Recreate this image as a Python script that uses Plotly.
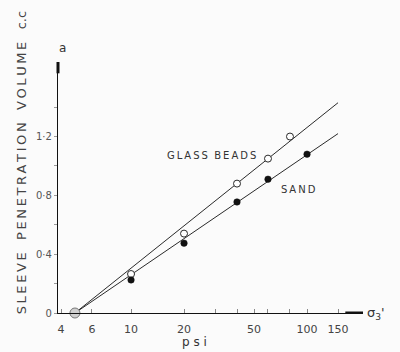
import plotly.graph_objects as go

# Confining pressure (psi) and sleeve penetration volume (c.c)
glass_psi = [10, 20, 40, 60, 80]
glass_vol = [0.265, 0.54, 0.88, 1.05, 1.20]
sand_psi = [10, 20, 40, 60, 100]
sand_vol = [0.225, 0.475, 0.755, 0.91, 1.08]

# Common intercept of both fitted lines
origin_psi = [4.8]
origin_vol = [0.0]

# Fitted straight lines (semi-log) end points
glass_fit_psi = [4.8, 150]
glass_fit_vol = [0.0, 1.43]
sand_fit_psi = [4.8, 150]
sand_fit_vol = [0.0, 1.22]

x_tick_vals = [4, 6, 10, 20, 30, 40, 50, 60, 80, 100, 150]
x_tick_text = ["4", "6", "10", "20", "", "", "50", "", "", "100", "150"]
y_tick_vals = [0, 0.2, 0.4, 0.6, 0.8, 1.0, 1.2, 1.4]
y_tick_text = ["0", "", "0·4", "", "0·8", "", "1·2", ""]

ink = "#2a2a2a"
font = "DejaVu Sans"


def spaced(word):
    # widen lettering with thin spaces between characters
    return "\u2009".join(word)


fig = go.Figure()

fig.add_trace(go.Scatter(x=glass_fit_psi, y=glass_fit_vol, mode="lines",
                         line=dict(color=ink, width=1), hoverinfo="skip"))
fig.add_trace(go.Scatter(x=sand_fit_psi, y=sand_fit_vol, mode="lines",
                         line=dict(color=ink, width=1), hoverinfo="skip"))
fig.add_trace(go.Scatter(x=glass_psi, y=glass_vol, mode="markers",
                         marker=dict(symbol="circle", size=7, color="white",
                                     line=dict(color=ink, width=1))))
fig.add_trace(go.Scatter(x=sand_psi, y=sand_vol, mode="markers",
                         marker=dict(symbol="circle", size=6.5, color="#111111",
                                     line=dict(color="#111111", width=0.5))))
fig.add_trace(go.Scatter(x=origin_psi, y=origin_vol, mode="markers",
                         marker=dict(symbol="circle", size=10, color="#cfcfcf",
                                     line=dict(color="#777777", width=1)),
                         cliponaxis=False))

# Heavy stubs at the ends of the axes
fig.add_shape(type="line", xref="paper", yref="y", x0=0, x1=0, y0=1.63, y1=1.707,
              line=dict(color="#111111", width=3))
fig.add_shape(type="line", xref="x", yref="y", x0=165, x1=208, y0=0, y1=0,
              line=dict(color="#111111", width=3))

fig.add_annotation(x=1.4545, y=1.07, xref="x", yref="y",
                   text=spaced("GLASS") + "  " + spaced("BEADS"),
                   showarrow=False, font=dict(family=font, size=10, color="#333333"))
fig.add_annotation(x=1.949, y=0.84, xref="x", yref="y", text=spaced("SAND"),
                   showarrow=False, font=dict(family=font, size=10, color="#333333"))

fig.add_annotation(x=-0.003, y=1.056, xref="paper", yref="paper", text="a",
                   yanchor="middle", showarrow=False,
                   font=dict(family=font, size=12, color="#333333"))
fig.add_annotation(x=0.449, y=-0.116, xref="paper", yref="paper", text="p s i",
                   yanchor="middle", showarrow=False,
                   font=dict(family=font, size=12, color="#333333"))
fig.add_annotation(x=1.005, y=0.0, xref="paper", yref="paper",
                   text="σ<sub>3</sub>'", xanchor="left", yanchor="middle",
                   showarrow=False, font=dict(family=font, size=13, color="#333333"))

ylabel = spaced("SLEEVE") + "   " + spaced("PENETRATION") + "   " + \
         spaced("VOLUME") + "   " + "c.c"
fig.add_annotation(x=-0.151, y=0.598, xref="paper", yref="paper", text=ylabel,
                   textangle=-90, showarrow=False,
                   font=dict(family=font, size=13, color="#444444"))

fig.update_xaxes(type="log", range=[0.585, 2.318], tickvals=x_tick_vals,
                 ticktext=x_tick_text, ticks="inside", ticklen=4, tickcolor="#888888",
                 ticklabelstandoff=6,
                 showline=True, linecolor="#111111", linewidth=1.3,
                 showgrid=False, zeroline=False,
                 tickfont=dict(family=font, size=11, color="#444444"))
fig.update_yaxes(range=[0, 1.707], tickvals=y_tick_vals, ticktext=y_tick_text,
                 ticks="outside", ticklen=3, tickcolor="#999999",
                 showline=True, linecolor="#111111", linewidth=1.3,
                 showgrid=False, zeroline=False,
                 tickfont=dict(family=font, size=10, color="#555555"))

fig.update_layout(width=400, height=352,
                  margin=dict(l=58, r=37, t=62, b=39),
                  paper_bgcolor="#fbfbfb", plot_bgcolor="#fbfbfb",
                  showlegend=False)

fig.write_html("out.html")
